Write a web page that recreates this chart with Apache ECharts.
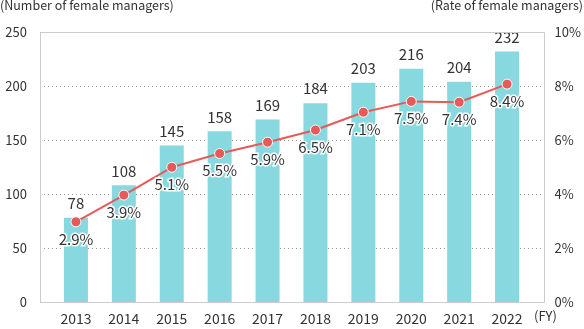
<!DOCTYPE html>
<html><head><meta charset="utf-8">
<script src="https://cdn.jsdelivr.net/npm/echarts@6/dist/echarts.min.js"></script>
<style>html,body{margin:0;padding:0;background:#fff}#c{width:584px;height:329px}</style>
</head><body><div id="c"></div>
<script>
const years = ['2013','2014','2015','2016','2017','2018','2019','2020','2021','2022'];
const managers = [78, 108, 145, 158, 169, 184, 203, 216, 204, 232];
const rateLabels = ['2.9', '3.9', '5.1', '5.5', '5.9', '6.5', '7.1', '7.5', '7.4', '8.4'];
const ratePlotted = [2.97, 3.96, 4.99, 5.5, 5.92, 6.37, 7.03, 7.43, 7.4, 8.07];
const leftAxisMax = 250, leftAxisStep = 50;
const rightAxisMax = 10, rightAxisStep = 2;
const leftTitle = '(Number of female managers)';
const rightTitle = '(Rate of female managers)';
const xUnit = '(FY)';

const FONT = '"Noto Sans CJK JP", "Noto Sans", sans-serif';
const TXT = '#333';
const chart = echarts.init(document.getElementById('c'), null, {renderer: 'canvas'});
chart.setOption({
  animation: false,
  textStyle: {fontFamily: FONT},
  grid: [
    {left: 40, right: 40, top: 32, bottom: 27, show: false},
    {left: 52, right: 53, top: 32, bottom: 27, show: false}
  ],
  xAxis: [
    {gridIndex: 0, type: 'value', min: 0, max: 1, show: false},
    {gridIndex: 1, type: 'category', data: years,
     axisLine: {show: false}, axisTick: {show: false},
     axisLabel: {color: TXT, fontSize: 14, margin: 10, fontFamily: FONT}}
  ],
  yAxis: [
    {gridIndex: 0, type: 'value', min: 0, max: leftAxisMax, interval: leftAxisStep, position: 'left',
     axisLine: {show: false}, axisTick: {show: false},
     axisLabel: {color: TXT, fontSize: 13, margin: 13, fontFamily: FONT},
     splitLine: {show: true, lineStyle: {color: '#999', type: [1, 3], width: 1}}},
    {gridIndex: 0, type: 'value', min: 0, max: rightAxisMax, interval: rightAxisStep, position: 'right',
     axisLine: {show: false}, axisTick: {show: false},
     axisLabel: {color: TXT, fontSize: 13, margin: 13, fontFamily: FONT, formatter: '{value}%'},
     splitLine: {show: false}},
    {gridIndex: 1, type: 'value', min: 0, max: leftAxisMax, show: false, splitLine: {show: false}},
    {gridIndex: 1, type: 'value', min: 0, max: rightAxisMax, show: false, splitLine: {show: false}}
  ],
  graphic: [
    {type: 'rect', shape: {x: 40.5, y: 32.5, width: 504, height: 270}, z: 100,
     style: {fill: 'none', stroke: '#cccccc', lineWidth: 1}},
    {type: 'text', left: 0, top: -1, style: {text: leftTitle, fontSize: 12.5, fill: TXT, fontFamily: FONT}},
    {type: 'text', right: 1, top: -1, style: {text: rightTitle, fontSize: 12.5, fill: TXT, fontFamily: FONT}},
    {type: 'text', left: 534, top: 310, style: {text: xUnit, fontSize: 13, fill: TXT, fontFamily: FONT}}
  ],
  series: [
    {type: 'bar', xAxisIndex: 1, yAxisIndex: 2, data: managers, barWidth: 24,
     itemStyle: {color: '#88d8df'},
     label: {show: true, position: 'top', distance: 7, color: TXT, fontSize: 15, fontFamily: FONT}},
    {type: 'line', xAxisIndex: 1, yAxisIndex: 3, data: ratePlotted, z: 5,
     lineStyle: {color: '#e65a5a', width: 2},
     symbol: 'circle', symbolSize: 10,
     itemStyle: {color: '#e65a5a', borderColor: '#fff', borderWidth: 1},
     label: {show: true, position: 'bottom', distance: 4, color: TXT, fontSize: 15, fontFamily: FONT,
             textBorderColor: '#fff', textBorderWidth: 3,
             formatter: p => rateLabels[p.dataIndex] + '%'}}
  ]
});
</script></body></html>
